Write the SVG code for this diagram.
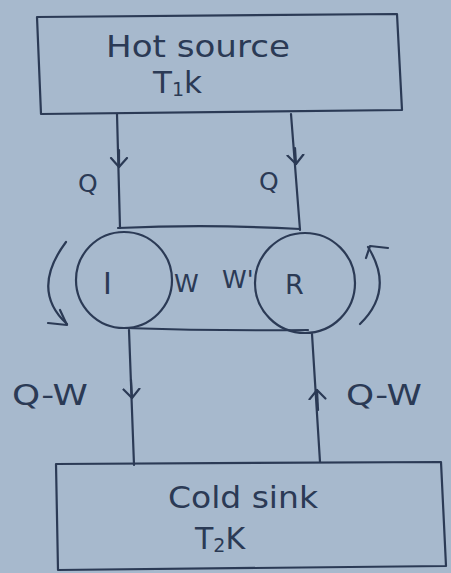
<svg xmlns="http://www.w3.org/2000/svg" width="451" height="573" viewBox="0 0 451 573">
<style>
.ln{fill:none;stroke:#2b3a55;stroke-width:2.2;stroke-linecap:round;stroke-linejoin:round}
.t{font-family:"DejaVu Sans","Liberation Sans",sans-serif;fill:#2b3a55}
</style>
<defs>
<marker id="v" markerWidth="20" markerHeight="20" refX="10" refY="10" orient="auto" markerUnits="userSpaceOnUse">
<path d="M1,2 L10,10 L1,18" fill="none" stroke="#2b3a55" stroke-width="2.2" stroke-linecap="round" stroke-linejoin="round"/>
</marker>
</defs>
<rect width="451" height="573" fill="#a7b9cd"/>
<g id="hot">
<path class="ln" d="M37,17 L397,14 L402,110 L41,114 Z"/>
<text class="t" x="106" y="57" font-size="31" textLength="184" lengthAdjust="spacingAndGlyphs">Hot source</text>
<text class="t" x="153" y="93" font-size="31">T<tspan font-size="19" dy="3">1</tspan><tspan dy="-3">k</tspan></text>
</g>
<g id="cold">
<path class="ln" d="M56,464 L441,462 L446,566 L58,570 Z"/>
<text class="t" x="168" y="508" font-size="30" textLength="150" lengthAdjust="spacingAndGlyphs">Cold sink</text>
<text class="t" x="195" y="549" font-size="30">T<tspan font-size="19" dy="3">2</tspan><tspan dy="-3">K</tspan></text>
</g>
<g id="I">
<circle class="ln" cx="124" cy="280" r="48"/>
<text class="t" x="103" y="294" font-size="30">I</text>
</g>
<g id="R">
<circle class="ln" cx="305" cy="283" r="50"/>
<text class="t" x="285" y="294" font-size="27">R</text>
</g>
<g id="connectors">
<path class="ln" d="M117,114 L120,228"/>
<path class="ln" d="M119,150 L119,167" marker-end="url(#v)"/>
<path class="ln" d="M291,114 L300,230"/>
<path class="ln" d="M295,148 L296,164" marker-end="url(#v)"/>
<path class="ln" d="M118,228 Q210,224 300,229"/>
<path class="ln" d="M125,328 Q215,331 308,330"/>
<path class="ln" d="M129,330 L134,465"/>
<path class="ln" d="M131,380 L132,398" marker-end="url(#v)"/>
<path class="ln" d="M312,334 L320,462"/>
<path class="ln" d="M318,410 L317,390" marker-end="url(#v)"/>
<path class="ln" d="M66,242 Q30,290 67,324"/>
<path class="ln" d="M48,323 L67,325 L60,310"/>
<path class="ln" d="M360,324 Q395,290 368,247"/>
<path class="ln" d="M366,258 L370,246 L388,248"/>
</g>
<g id="labels">
<text class="t" x="78" y="192" font-size="25">Q</text>
<text class="t" x="259" y="190" font-size="25">Q</text>
<text class="t" x="174" y="292" font-size="25">W</text>
<text class="t" x="222" y="288" font-size="25">W'</text>
<text class="t" x="12" y="405" font-size="28" textLength="76" lengthAdjust="spacingAndGlyphs">Q-W</text>
<text class="t" x="346" y="405" font-size="28" textLength="76" lengthAdjust="spacingAndGlyphs">Q-W</text>
</g>
</svg>
